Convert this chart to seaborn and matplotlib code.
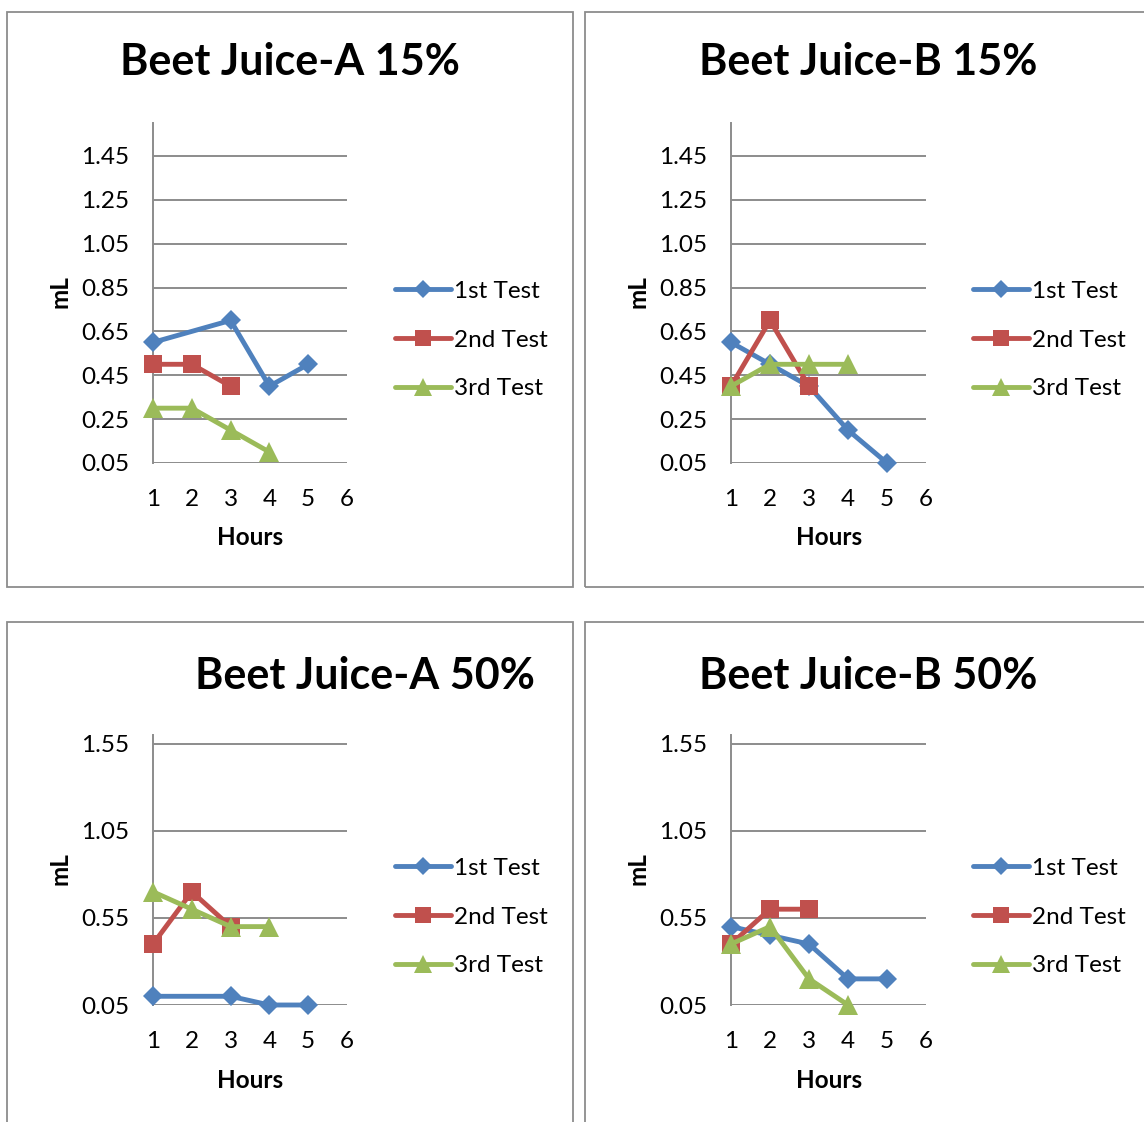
import numpy as np
import pandas as pd
import matplotlib
matplotlib.use("Agg")
import matplotlib.pyplot as plt
from matplotlib.lines import Line2D
from matplotlib.patches import Rectangle
import seaborn as sns

sns.set_style("white")
plt.rcParams['font.family'] = ['Lato', 'DejaVu Sans']
plt.rcParams['text.color'] = 'black'
plt.rcParams['axes.labelcolor'] = 'black'
plt.rcParams['xtick.color'] = 'black'
plt.rcParams['ytick.color'] = 'black'

hours = [1, 2, 3, 4, 5]
tests = ["1st Test", "2nd Test", "3rd Test"]

a15_t1 = [0.60, np.nan, 0.70, 0.40, 0.50]
a15_t2 = [0.50, 0.50, 0.40, np.nan, np.nan]
a15_t3 = [0.30, 0.30, 0.20, 0.10, np.nan]

b15_t1 = [0.60, 0.50, 0.40, 0.20, 0.05]
b15_t2 = [0.40, 0.70, 0.40, np.nan, np.nan]
b15_t3 = [0.40, 0.50, 0.50, 0.50, np.nan]

a50_t1 = [0.10, np.nan, 0.10, 0.05, 0.05]
a50_t2 = [0.40, 0.70, 0.50, np.nan, np.nan]
a50_t3 = [0.70, 0.60, 0.50, 0.50, np.nan]

b50_t1 = [0.50, 0.45, 0.40, 0.20, 0.20]
b50_t2 = [0.40, 0.60, 0.60, np.nan, np.nan]
b50_t3 = [0.40, 0.50, 0.20, 0.05, np.nan]

titles = ["Beet Juice-A 15%", "Beet Juice-B 15%", "Beet Juice-A 50%", "Beet Juice-B 50%"]
x_ticks = [1, 2, 3, 4, 5, 6]
y_ticks_15 = [0.05, 0.25, 0.45, 0.65, 0.85, 1.05, 1.25, 1.45]
y_ticks_50 = [0.05, 0.55, 1.05, 1.55]

colors = ["#4F81BD", "#C0504D", "#9BBB59"]
markers = ["D", "s", "^"]
msizes = [10, 13, 14]

W, H = 1144, 1122
fig = plt.figure(figsize=(W / 100, H / 100), dpi=100)
fig.patch.set_facecolor("white")

def px_axes(l, t, r, b):
    return fig.add_axes([l / W, 1 - b / H, (r - l) / W, (b - t) / H])

def frame(l, t, r, b):
    fig.patches.append(Rectangle((l / W, 1 - b / H), (r - l) / W, (b - t) / H,
                                 transform=fig.transFigure, fill=False,
                                 edgecolor="#8c8c8c", linewidth=1.3))

frame(7, 12, 573, 587)
frame(585, 12, 1150, 587)
frame(7, 622, 573, 1130)
frame(585, 622, 1150, 1130)

panels = [
    (a15_t1, a15_t2, a15_t3, (153, 123, 347, 463), y_ticks_15, (290, 62), 340),
    (b15_t1, b15_t2, b15_t3, (731, 123, 926, 463), y_ticks_15, (868, 62), 340),
    (a50_t1, a50_t2, a50_t3, (153, 735, 347, 1005), y_ticks_50, (365, 676), 917),
    (b50_t1, b50_t2, b50_t3, (731, 735, 926, 1005), y_ticks_50, (868, 676), 917),
]

for i, (s1, s2, s3, box, yt, tpos, legy) in enumerate(panels):
    l, t, r, b = box
    ax = px_axes(l, t, r, b)
    df = pd.DataFrame({
        "Hours": hours * 3,
        "mL": list(s1) + list(s2) + list(s3),
        "Test": [tests[0]] * 5 + [tests[1]] * 5 + [tests[2]] * 5,
    }).dropna()
    for k, name in enumerate(tests):
        sub = df[df["Test"] == name]
        sns.lineplot(data=sub, x="Hours", y="mL", ax=ax, color=colors[k],
                     marker=markers[k], markersize=msizes[k], linewidth=3.5,
                     markeredgewidth=0, estimator=None, sort=False,
                     legend=False, clip_on=False, zorder=3 + k)
    ax.set_xlim(1, 6)
    ax.set_ylim(0.05, 1.6)
    ax.set_xticks(x_ticks)
    ax.set_xticklabels([str(v) for v in x_ticks])
    ax.set_yticks(yt)
    ax.set_yticklabels([f"{v:.2f}" for v in yt])
    ax.tick_params(axis="both", length=0, labelsize=17.5, colors="black")
    ax.tick_params(axis="x", pad=19)
    ax.tick_params(axis="y", pad=17)
    ax.grid(axis="y", color="#8c8c8c", linewidth=1.4)
    ax.grid(axis="x", visible=False)
    ax.set_axisbelow(True)
    for sp in ["top", "right", "bottom"]:
        ax.spines[sp].set_visible(False)
    ax.spines["left"].set_color("#8c8c8c")
    ax.spines["left"].set_linewidth(1.4)
    ax.set_facecolor("white")
    ax.set_xlabel("Hours", fontsize=17.5, fontweight="bold")
    ax.set_ylabel("mL", fontsize=17.5, fontweight="bold")
    hgt = b - t
    ax.xaxis.set_label_coords((250 - 153) / 194 if l < 500 else (829 - 731) / 195,
                              -((538 - 463) if hgt > 300 else (1080 - 1005)) / hgt)
    ax.xaxis.label.set_va("center")
    ax.yaxis.set_label_coords(-(153 - 60) / 194, 0.5 - ((292 - 293) / hgt))
    ax.yaxis.label.set_va("center")
    ax.yaxis.label.set_ha("center")

    fig.text(tpos[0] / W, 1 - tpos[1] / H, titles[i], fontsize=31,
             fontweight="bold", ha="center", va="center")

    handles = [Line2D([], [], color=colors[k], marker=markers[k],
                      markersize=msizes[k] - 1, linewidth=3.5, markeredgewidth=0)
               for k in range(3)]
    fig.legend(handles, tests, loc="center left",
               bbox_to_anchor=((l + 242) / W, 1 - legy / H),
               bbox_transform=fig.transFigure, frameon=False, fontsize=17.5,
               handlelength=2.3, handletextpad=0.12, labelspacing=1.15,
               borderpad=0, borderaxespad=0)

fig.savefig("out.png", dpi=100, facecolor="white")
